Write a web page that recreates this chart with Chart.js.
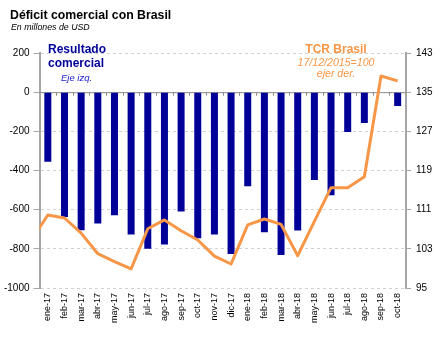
<!DOCTYPE html>
<html>
<head>
<meta charset="utf-8">
<script src="https://cdn.jsdelivr.net/npm/chart.js@4"></script>
<style>
  html, body { margin: 0; padding: 0; background: #fff; }
  #wrap { position: relative; width: 444px; height: 341px; font-family: "Liberation Sans", Arial, sans-serif; }
  #wrap canvas { position: absolute; left: 0; top: 0; }
  .lbl { position: absolute; line-height: 1; white-space: nowrap; }
  .title { left: 10px; top: 8.5px; font-size: 12.3px; font-weight: bold; color: #000; }
  .sub { left: 11px; top: 23.2px; font-size: 8.8px; font-style: italic; color: #000; }
  .res { left: 48px; font-size: 12px; font-weight: bold; color: #000099; }
  .eje { left: 61px; top: 73.4px; font-size: 9.5px; font-style: italic; color: #1a1acc; }
  .tcr { width: 120px; left: 276px; text-align: center; color: #f79646; }
</style>
</head>
<body>
<div id="wrap">
  <canvas id="c" width="444" height="341"></canvas>
  <div class="lbl title">Déficit comercial con Brasil</div>
  <div class="lbl sub">En millones de USD</div>
  <div class="lbl res" style="top:43.1px">Resultado</div>
  <div class="lbl res" style="top:56.5px">comercial</div>
  <div class="lbl eje">Eje izq.</div>
  <div class="lbl tcr" style="top:43.1px;font-size:12px;font-weight:bold">TCR Brasil</div>
  <div class="lbl tcr" style="top:57px;font-size:10.6px;font-style:italic">17/12/2015=100</div>
  <div class="lbl tcr" style="top:67.7px;font-size:10.6px;font-style:italic">ejer der.</div>
</div>
<script>
// Months shown on the category axis
const months = ['ene-17','feb-17','mar-17','abr-17','may-17','jun-17','jul-17','ago-17','sep-17','oct-17','nov-17','dic-17',
                'ene-18','feb-18','mar-18','abr-18','may-18','jun-18','jul-18','ago-18','sep-18','oct-18'];
// Trade balance with Brazil, millions of USD (left axis)
const tradeBalance = [-355,-637,-705,-671,-628,-727,-800,-778,-609,-746,-727,-827,
                      -480,-715,-832,-706,-449,-527,-204,-157,0,-71];
// Real exchange rate index, 17/12/2015 = 100 (right axis); first value is dic-16
const tcrPrevious = 104.7;
const tcrBrasil = [109.9,109.3,106.2,102.0,100.4,98.9,107.1,108.9,106.7,104.8,101.5,99.9,
                   107.9,109.1,108.0,101.6,108.6,115.5,115.5,117.7,138.3,137.3];
// Axis ticks
const leftTicks = [200,0,-200,-400,-600,-800,-1000];
const rightTicks = [143,135,127,119,111,103,95];

const navy = '#000099';
const orange = '#f79646';
const axisGray = '#a6a6a6';

const linePoints = [{x: -1, y: tcrPrevious}].concat(tcrBrasil.map((v, i) => ({x: i, y: v})));

// Solid zero line with small marks at the category boundaries
const zeroLine = {
  id: 'zeroLine',
  beforeDatasetsDraw(chart) {
    const {ctx, chartArea: a, scales} = chart;
    const y0 = scales.y.getPixelForValue(0);
    const n = months.length;
    const step = (a.right - a.left) / n;
    ctx.save();
    ctx.strokeStyle = '#8c8c8c';
    ctx.lineWidth = 1;
    ctx.beginPath();
    ctx.moveTo(a.left, y0 + 0.5);
    ctx.lineTo(a.right, y0 + 0.5);
    for (let i = 1; i < n; i++) {
      const x = Math.round(a.left + i * step) + 0.5;
      ctx.moveTo(x, y0);
      ctx.lineTo(x, y0 + 3.5);
    }
    ctx.stroke();
    ctx.restore();
  }
};

new Chart(document.getElementById('c'), {
  data: {
    labels: months,
    datasets: [
      {
        type: 'line',
        data: linePoints,
        xAxisID: 'xLine',
        yAxisID: 'y2',
        borderColor: orange,
        borderWidth: 3,
        borderJoinStyle: 'round',
        pointRadius: 0,
        tension: 0,
        clip: 0,
        order: 0
      },
      {
        type: 'bar',
        data: tradeBalance,
        xAxisID: 'x',
        yAxisID: 'y',
        backgroundColor: navy,
        borderWidth: 0,
        barPercentage: 0.42,
        categoryPercentage: 1,
        grouped: false,
        order: 1
      }
    ]
  },
  options: {
    responsive: false,
    devicePixelRatio: 1,
    animation: false,
    layout: { padding: { top: 53, left: 0, right: 0, bottom: 0 } },
    plugins: { legend: { display: false }, tooltip: { enabled: false }, title: { display: false } },
    scales: {
      x: {
        type: 'category',
        offset: true,
        grid: { display: false, drawTicks: false },
        border: { display: false },
        ticks: {
          autoSkip: false, maxRotation: 90, minRotation: 90, padding: 5,
          color: '#000', font: { family: 'Liberation Sans', size: 9 }
        },
        afterFit(s) { s.height = 53; }
      },
      xLine: {
        type: 'linear',
        display: false,
        min: -0.5,
        max: months.length - 0.5
      },
      y: {
        position: 'left',
        min: -1000, max: 200,
        afterBuildTicks(s) { s.ticks = leftTicks.map(v => ({value: v})); },
        grid: { color: '#d2d2d2', lineWidth: 1, tickColor: axisGray, tickLength: 6, tickWidth: 1 },
        border: { color: axisGray, width: 2, dash: [3, 3] },
        ticks: { padding: 4, color: '#000', font: { family: 'Liberation Sans', size: 10 }, callback: v => String(v) },
        afterFit(s) { s.width = 39.5; }
      },
      y2: {
        position: 'right',
        min: 95, max: 143,
        afterBuildTicks(s) { s.ticks = rightTicks.map(v => ({value: v})); },
        grid: { drawOnChartArea: false, tickColor: axisGray, tickLength: 5, tickWidth: 1 },
        border: { color: axisGray, width: 2 },
        ticks: { padding: 5, color: '#000', font: { family: 'Liberation Sans', size: 10 }, callback: v => String(v) },
        afterFit(s) { s.width = 38; }
      }
    }
  },
  plugins: [zeroLine]
});
</script>
</body>
</html>
